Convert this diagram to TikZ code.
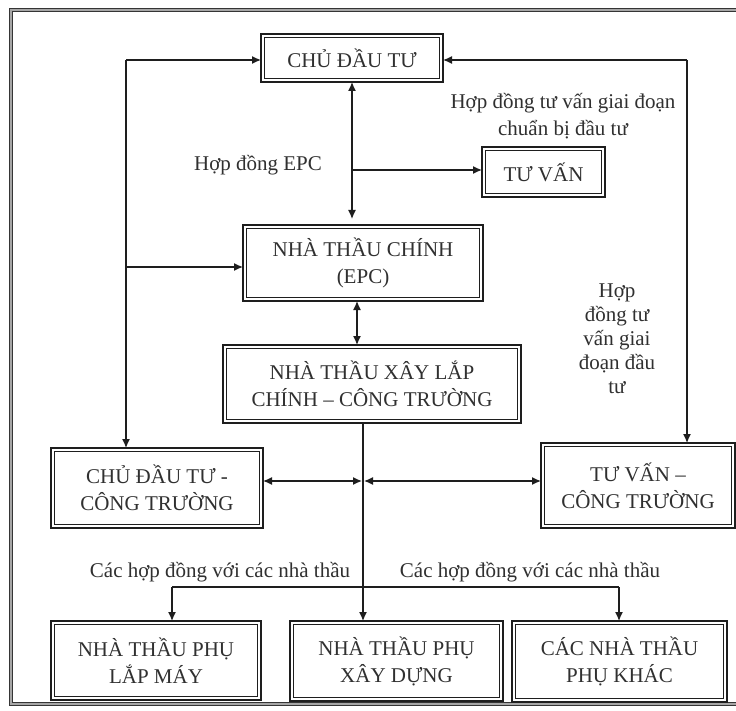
\documentclass[tikz,border=0pt]{standalone}
\usepackage{fontspec}
\setmainfont{Liberation Serif}
\usetikzlibrary{arrows.meta}
\definecolor{ink}{HTML}{1E1E1E}
\definecolor{txt}{HTML}{303030}
\begin{document}
\begin{tikzpicture}[x=1pt,y=-1pt,
  every node/.style={font=\fontsize{21}{27}\selectfont, text=txt},
  box/.style={draw=ink, line width=2.4pt, outer sep=0pt, inner sep=0pt, align=center, fill=white},
  innerline/.style={draw=ink, line width=0.9pt},
  lbl/.style={align=center, inner sep=0pt},
  conn/.style={draw=ink, line width=1.3pt},
  tip/.tip={Latex[length=9pt,width=8pt]},
  arr/.style={conn, -tip},
  darr/.style={conn, tip-tip},
]
\useasboundingbox (0,0) rectangle (736,711);
\clip (0,0) rectangle (736,711);
\fill[white] (0,0) rectangle (736,711);
\draw[draw=ink!90, line width=1.1pt, double=gray!70, double distance=2pt] (11,10) rectangle (760,704);

% boxes
\node[box, minimum width=182pt, minimum height=48pt] (cdt) at (352,58) {CHỦ ĐẦU TƯ};
\node[box, minimum width=123pt, minimum height=50pt] (tv) at (543.5,172) {TƯ VẤN};
\node[box, minimum width=240pt, minimum height=76pt] (ntc) at (363,263) {NHÀ THẦU CHÍNH\\(EPC)};
\node[box, minimum width=298pt, minimum height=78pt] (xl) at (372,384) {NHÀ THẦU XÂY LẮP\\CHÍNH – CÔNG TRƯỜNG};
\node[box, minimum width=212pt, minimum height=80pt] (cdtct) at (157,488) {CHỦ ĐẦU TƯ -\\CÔNG TRƯỜNG};
\node[box, minimum width=194pt, minimum height=85pt] (tvct) at (638,485.5) {TƯ VẤN –\\CÔNG TRƯỜNG};
\node[box, minimum width=210pt, minimum height=79pt] (lm) at (156,660.5) {NHÀ THẦU PHỤ\\LẮP MÁY};
\node[box, minimum width=213pt, minimum height=80pt] (xd) at (396.5,661) {NHÀ THẦU PHỤ\\XÂY DỰNG};
\node[box, minimum width=215pt, minimum height=81pt] (khac) at (619.5,661.5) {CÁC NHÀ THẦU\\PHỤ KHÁC};

\foreach \n in {cdt,tv,ntc,xl,cdtct,tvct,lm,xd,khac}
  \draw[innerline] ([shift={(3.8,3.8)}]\n.north west) rectangle ([shift={(-3.8,-3.8)}]\n.south east);

% labels
\node[lbl] (l1) at (258,165) {Hợp đồng EPC};
\node[lbl] (l2) at (563,116) {Hợp đồng tư vấn giai đoạn\\chuẩn bị đầu tư};
\node[lbl, font=\fontsize{21}{24}\selectfont] (l3) at (617,339) {Hợp\\đồng tư\\vấn giai\\đoạn đầu\\tư};
\node[lbl] (l4) at (220,572) {Các hợp đồng với các nhà thầu};
\node[lbl] (l5) at (530,572) {Các hợp đồng với các nhà thầu};

% coordinates
\coordinate (lt) at (126,60);
\coordinate (ln) at (126,267);
\coordinate (rt) at (687,60);
\coordinate (ej) at (352,170);
\coordinate (mv) at (363,481);
\coordinate (bl) at (172,587);
\coordinate (br) at (619,587);

% connectors
\draw[arr] (lt) -- (lt -| cdt.west);
\draw[arr] (lt) -- (lt |- cdtct.north);
\draw[arr] (ln) -- (ln -| ntc.west);
\draw[arr] (rt) -- (rt -| cdt.east);
\draw[arr] (rt) -- (rt |- tvct.north);
\draw[darr, shorten >=6pt] (cdt.south) -- (cdt.south |- ntc.north);
\draw[arr] (ej) -- (ej -| tv.west);
\draw[darr] ([xshift=-6pt]ntc.south) -- ([xshift=-6pt]ntc.south |- xl.north);
\draw[arr] (xl.south -| mv) -- (mv |- xd.north);
\draw[darr] (mv -| cdtct.east) -- ([xshift=-1pt]mv);
\draw[darr] ([xshift=1pt]mv) -- (mv -| tvct.west);
\draw[conn] (bl) -- (br);
\draw[arr] (bl) -- (bl |- lm.north);
\draw[arr] (br) -- (br |- khac.north);
\end{tikzpicture}
\end{document}
